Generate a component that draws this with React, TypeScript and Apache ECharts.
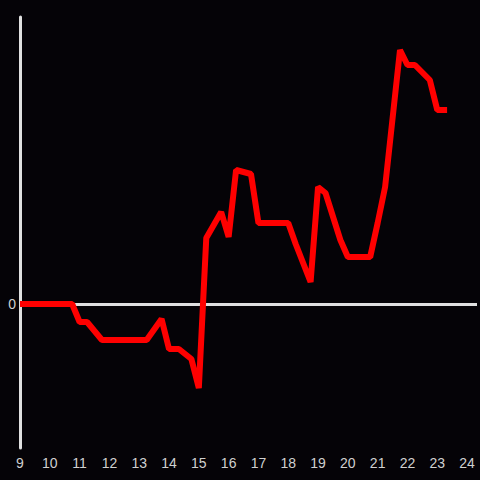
import React, { useEffect, useRef } from "react";
import * as echarts from "echarts";

const hours: number[] = [9, 10.75, 11, 11.25, 11.75, 13.25, 13.75, 14, 14.33, 14.75, 15, 15.25, 15.75, 16, 16.25, 16.75, 17, 18, 18.25, 18.75, 19, 19.25, 19.75, 20, 20.75, 21, 21.25, 21.75, 22, 22.25, 22.75, 23, 23.33];
const values: number[] = [0, 0, -1.8, -1.8, -3.6, -3.6, -1.5, -4.5, -4.5, -5.5, -8.4, 6.6, 9.2, 6.7, 13.4, 13.0, 8.1, 8.1, 6.0, 2.2, 11.7, 11.1, 6.4, 4.7, 4.7, 8.1, 11.7, 25.4, 23.9, 23.9, 22.4, 19.4, 19.4];
const yTickLabels: number[] = [0];

export default function App() {
  const ref = useRef<HTMLDivElement>(null);
  useEffect(() => {
    if (!ref.current) return;
    const chart = echarts.init(ref.current, null, { renderer: "svg", width: 480, height: 480 });
    chart.setOption({
      animation: false,
      backgroundColor: "#050307",
      grid: { left: 20, width: 460, top: 17, height: 431 },
      xAxis: {
        type: "value",
        min: 9,
        max: 24 + 1 / 3,
        interval: 1,
        axisLine: { show: false, onZero: false },
        axisTick: { show: false },
        splitLine: { show: false },
        axisLabel: {
          color: "#d0d0d0",
          fontSize: 14,
          fontFamily: "Liberation Sans, Arial, sans-serif",
          margin: 8,
          formatter: (v: number) => (Math.abs(v - Math.round(v)) < 1e-6 ? String(Math.round(v)) : ""),
        },
      },
      yAxis: {
        type: "value",
        min: -14.4,
        max: 28.7,
        axisLine: { show: true, lineStyle: { color: "#e0e0e0", width: 3 } },
        axisTick: { show: false },
        splitLine: { show: false },
        axisLabel: {
          color: "#d0d0d0",
          fontSize: 14,
          fontFamily: "Liberation Sans, Arial, sans-serif",
          margin: 4,
          showMinLabel: false,
          showMaxLabel: false,
          formatter: (v: number) => (yTickLabels.includes(v) ? String(v) : ""),
        },
      },
      series: [
        {
          type: "line",
          data: hours.map((h, i) => [h, values[i]]),
          showSymbol: false,
          lineStyle: { color: "#ff0000", width: 6 },
          z: 3,
          markLine: {
            silent: true,
            symbol: "none",
            label: { show: false },
            lineStyle: { color: "#e0e0e0", width: 3, type: "solid" },
            data: [{ yAxis: 0 }],
            z: 1,
          },
        },
      ],
    });
    return () => chart.dispose();
  }, []);
  return <div ref={ref} style={{ width: 480, height: 480, position: "absolute", left: 0, top: 0 }} />;
}
